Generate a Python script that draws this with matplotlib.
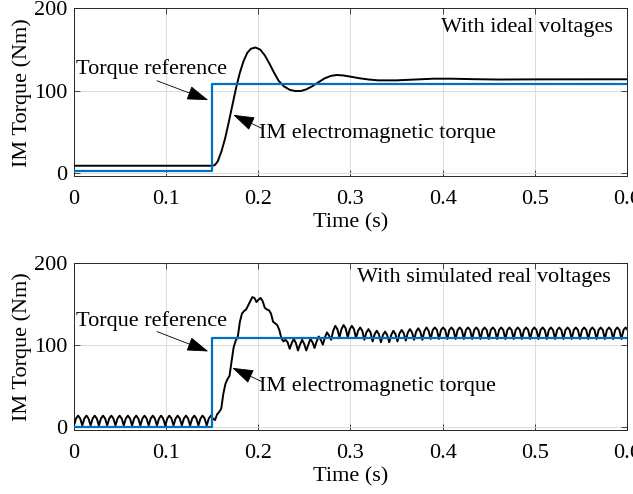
import numpy as np
import matplotlib
matplotlib.use("Agg")
import matplotlib.pyplot as plt

plt.rcParams['font.family'] = ['Liberation Serif', 'DejaVu Serif']
plt.rcParams['mathtext.fontset'] = 'stix'

# torque reference (step)
t_ref = [0, 0.15, 0.15, 0.6]
ref_top = [1.5, 1.5, 108, 108]
ref_bot = [0, 0, 108, 108]

# IM torque with ideal voltages
t_ideal = [0, 0.150, 0.153, 0.156, 0.160, 0.164, 0.168, 0.172, 0.176, 0.180,
           0.184, 0.188, 0.192, 0.197, 0.202, 0.207, 0.212, 0.217, 0.222, 0.228,
           0.234, 0.240, 0.246, 0.252, 0.258, 0.265, 0.272, 0.279, 0.285, 0.292,
           0.300, 0.310, 0.320, 0.330, 0.350, 0.370, 0.390, 0.410, 0.430, 0.460,
           0.500, 0.600]
T_ideal = [8.5, 8.5, 9.5, 14, 26, 42, 62, 83, 104, 122,
           136, 146, 151, 152.5, 150, 143, 133, 122, 112, 105,
           101, 99.5, 99.5, 101.5, 105, 110, 115, 118, 119, 118.5,
           117, 115, 113.5, 112.5, 112.5, 113.5, 114.5, 114.5, 114, 113.5,
           113.7, 113.8]

# IM torque with simulated real voltages, sampled every 2.25 ms
dt_real = 0.00225
T_real = [
    1.5, 10, 13.5, 10, 1.5, 10, 13.5, 10, 1.5, 10, 13.5, 10, 1.5, 10, 13.5, 10,
    1.5, 10, 13.5, 10, 1.5, 10, 13.5, 10, 1.5, 10, 13.5, 10, 1.5, 10, 13.5, 10,
    1.5, 10, 13.5, 10, 1.5, 10, 13.5, 10, 1.5, 10, 13.5, 10, 1.5, 10, 13.5, 10,
    1.5, 10, 13.5, 10, 1.5, 10, 13.5, 10, 1.5, 10, 13.5, 10, 1.5, 10, 13.5, 10,
    1.5, 10, 13.5, 10, 8, 15, 18, 22, 40, 52, 58, 62, 80, 97, 105, 110,
    128, 138, 141, 143, 148, 153, 158, 157, 152, 155, 157, 153, 145, 143, 142, 138,
    128, 126, 124, 118, 108, 104, 106, 103, 95, 102, 107, 102, 93, 100, 106, 101,
    93, 100, 107, 103, 96, 104, 110, 106, 100, 109, 115, 111, 106, 117, 123, 119,
    109, 119, 124, 120, 109, 119, 123, 119, 108, 117, 121, 117, 106, 115, 119, 115,
    104, 113, 117, 113, 103, 112, 116, 112, 103, 112, 117, 113, 104, 114, 118, 114,
    105, 115, 119, 115, 106, 116, 120, 116, 106, 117, 121, 117, 107, 118, 121, 118,
    107, 118, 121, 118, 107, 118, 121, 118, 107, 118, 121, 118, 107, 118, 121, 118,
    107, 118, 121, 118, 107, 118, 121, 118, 107, 118, 121, 118, 107, 118, 121, 118,
    107, 118, 121, 118, 107, 118, 121, 118, 107, 118, 121, 118, 107, 118, 121, 118,
    107, 118, 121, 118, 107, 118, 121, 118, 107, 118, 121, 118, 107, 118, 121, 118,
    107, 118, 121, 118, 107, 118, 121, 118, 107, 118, 121, 118, 107, 118, 121, 118,
    107, 118, 121, 118, 107, 118, 121, 118, 107, 118, 121, 118, 107, 118, 121, 118,
]
t_real = np.arange(len(T_real)) * dt_real

xticks = [0, 0.1, 0.2, 0.3, 0.4, 0.5, 0.6]
xticklabels = ['0', '0.1', '0.2', '0.3', '0.4', '0.5', '0.6']
yticks = [0, 100, 200]

blue = '#0072BD'
fs = 16

fig = plt.figure(figsize=(6.33, 4.94), dpi=100)
ax1 = fig.add_axes([0.1169, 0.6437, 0.8736, 0.3391])
ax2 = fig.add_axes([0.1169, 0.1296, 0.8736, 0.3386])


def style(ax):
    ax.set_xlim(0, 0.6)
    ax.set_ylim(-4, 200)
    ax.set_xticks(xticks)
    ax.set_xticklabels(xticklabels)
    ax.set_yticks(yticks)
    ax.grid(True, color='#dcdcdc', lw=0.7)
    ax.set_axisbelow(True)
    ax.tick_params(direction='in', top=True, right=True, length=4, width=0.6,
                   labelsize=fs, color='#262626')
    ax.tick_params(axis='x', pad=10)
    ax.tick_params(axis='y', pad=5)
    for s in ax.spines.values():
        s.set_linewidth(0.7)
        s.set_color('#262626')
    ax.set_xlabel('Time (s)', fontsize=fs, labelpad=3)
    ax.set_ylabel('IM Torque (Nm)', fontsize=fs, labelpad=1)


arrow = dict(arrowstyle='-|>,head_length=0.9,head_width=0.3', color='k',
             lw=0.6, mutation_scale=15, shrinkA=0, shrinkB=0)

# top: ideal voltages
ax1.plot(t_ideal, T_ideal, color='k', lw=1.4, zorder=3)
ax1.plot(t_ref, ref_top, color=blue, lw=1.6, zorder=4)
style(ax1)
ax1.text(0.0837, 126.6, 'Torque reference', fontsize=fs, ha='center', va='center')
ax1.annotate('', xy=(0.1457, 88.4), xytext=(0.090, 112), arrowprops=arrow)
ax1.text(0.201, 47.8, 'IM electromagnetic torque', fontsize=fs, ha='left', va='center')
ax1.annotate('', xy=(0.1728, 70.5), xytext=(0.2043, 53.8), arrowprops=arrow)
ax1.text(0.585, 176.8, 'With ideal voltages', fontsize=fs, ha='right', va='center')

# bottom: simulated real voltages
ax2.plot(t_real, T_real, color='k', lw=1.4, zorder=3)
ax2.plot(t_ref, ref_bot, color=blue, lw=1.6, zorder=4)
style(ax2)
ax2.text(0.0837, 128.5, 'Torque reference', fontsize=fs, ha='center', va='center')
ax2.annotate('', xy=(0.1457, 91.8), xytext=(0.090, 116), arrowprops=arrow)
ax2.text(0.201, 49, 'IM electromagnetic torque', fontsize=fs, ha='left', va='center')
ax2.annotate('', xy=(0.1717, 71.8), xytext=(0.2043, 54.7), arrowprops=arrow)
ax2.text(0.5826, 182, 'With simulated real voltages', fontsize=fs, ha='right', va='center')

fig.savefig('out.png', dpi=100)
